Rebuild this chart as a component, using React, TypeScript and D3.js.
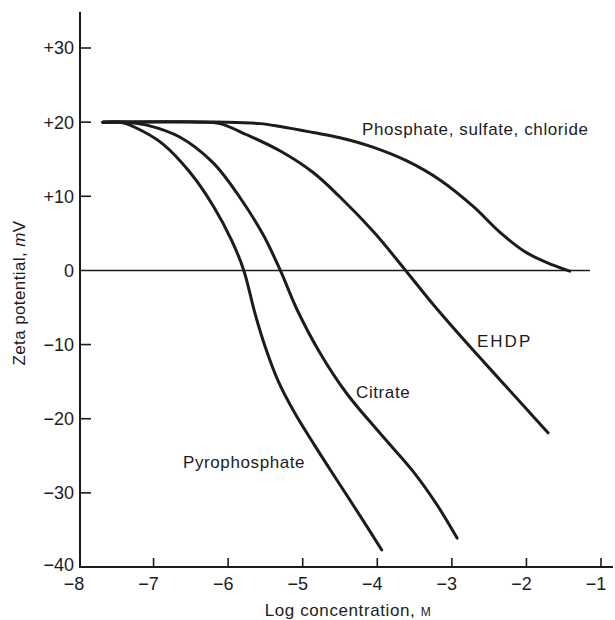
import React from "react";
import * as d3 from "d3";

// Zeta potential (mV) versus log molar concentration for several anions
const pyrophosphate: [number, number][] = [
  [-7.68, 20], [-7.41, 19.9], [-7.15, 18.8], [-6.87, 17.0], [-6.51, 13.2],
  [-6.2, 8.7], [-5.95, 4.0], [-5.79, 0], [-5.64, -5.8], [-5.5, -10.4],
  [-5.33, -14.9], [-5.12, -19.0], [-4.84, -23.6], [-4.54, -28.3],
  [-4.23, -33.1], [-3.94, -37.7],
];
const citrate: [number, number][] = [
  [-7.68, 20], [-7.35, 20], [-7.09, 19.6], [-6.65, 18.0], [-6.2, 14.5],
  [-5.84, 9.8], [-5.53, 4.8], [-5.3, 0], [-5.08, -5.2], [-4.77, -11.1],
  [-4.41, -16.6], [-3.96, -22.0], [-3.52, -27.1], [-3.2, -31.6],
  [-2.93, -36.1],
];
const ehdp: [number, number][] = [
  [-7.68, 20], [-6.4, 20], [-6.11, 19.8], [-5.75, 18.3], [-5.3, 16.1],
  [-4.86, 13.2], [-4.5, 9.9], [-4.05, 5.2], [-3.62, 0], [-3.25, -4.6],
  [-2.8, -9.8], [-2.35, -14.8], [-1.99, -18.8], [-1.71, -21.9],
];
const phosphate: [number, number][] = [
  [-7.68, 20], [-6.0, 20], [-5.57, 19.8], [-5.3, 19.4], [-4.86, 18.6],
  [-4.5, 17.9], [-4.05, 16.6], [-3.61, 14.8], [-3.16, 12.2], [-2.71, 8.6],
  [-2.35, 5.1], [-2.0, 2.4], [-1.64, 0.7], [-1.42, -0.1],
];

const seriesNames = ["Pyrophosphate", "Citrate", "EHDP", "Phosphate, sulfate, chloride"];
const seriesValues = [pyrophosphate, citrate, ehdp, phosphate];

const xTicks = [-8, -7, -6, -5, -4, -3, -2, -1];
const yTicks = [-40, -30, -20, -10, 0, 10, 20, 30];

// label anchors in data units (start of text, baseline)
const labelAnchors: [number, number][] = [
  [-6.605, -26.65],
  [-4.285, -17.2],
  [-2.663, -10.33],
  [-4.205, 18.27],
];

const W = 615;
const H = 620;
const FONT = "'Liberation Sans', Arial, Helvetica, sans-serif";
const INK = "#1c1c1c";

export default function App() {
  const x = d3.scaleLinear().domain([-8, -1]).range([79, 601]);
  const y = d3.scaleLinear().domain([-40, 30]).range([567, 48]);

  const line = d3
    .line<[number, number]>()
    .x((d) => x(d[0]))
    .y((d) => y(d[1]))
    .curve(d3.curveCatmullRom.alpha(0.5));

  const fmtY = (v: number) =>
    v > 0 ? `+${v}` : v < 0 ? `\u2212${Math.abs(v)}` : "0";
  const fmtX = (v: number) => (v < 0 ? `\u2212${Math.abs(v)}` : `${v}`);

  const axisX = 80;
  const axisTop = y(34.9);

  return (
    <svg
      width={W}
      height={H}
      style={{ position: "absolute", left: 0, top: 0, background: "#fff" }}
      fontFamily={FONT}
    >
      <rect width={W} height={H} fill="#fff" />

      {/* zero reference line */}
      <line
        x1={axisX}
        x2={590}
        y1={y(0)}
        y2={y(0)}
        stroke={INK}
        strokeWidth={1.6}
      />

      {/* y axis */}
      <line x1={axisX} x2={axisX} y1={axisTop} y2={y(-40)} stroke={INK} strokeWidth={2} />
      {yTicks
        .filter((t) => t !== 0 && t !== -40)
        .map((t) => (
          <line
            key={`yt${t}`}
            x1={axisX}
            x2={axisX + 11}
            y1={y(t)}
            y2={y(t)}
            stroke={INK}
            strokeWidth={1.6}
          />
        ))}
      {yTicks.map((t) => (
        <text
          key={`yl${t}`}
          x={74}
          y={y(t) + (t === -40 ? -2 : 0)}
          dy="0.36em"
          textAnchor="end"
          fontSize={18}
          fill={INK}
        >
          {fmtY(t)}
        </text>
      ))}

      {/* x axis */}
      <line x1={axisX - 1} x2={613} y1={y(-40)} y2={y(-40)} stroke={INK} strokeWidth={2} />
      {xTicks
        .filter((t) => t !== -8)
        .map((t) => (
          <line
            key={`xt${t}`}
            x1={x(t)}
            x2={x(t)}
            y1={y(-40)}
            y2={y(-40) - 9}
            stroke={INK}
            strokeWidth={1.6}
          />
        ))}
      {xTicks.map((t) => (
        <text
          key={`xl${t}`}
          x={x(t) - 5}
          y={590}
          textAnchor="middle"
          fontSize={18}
          fill={INK}
        >
          {fmtX(t)}
        </text>
      ))}

      {/* axis titles */}
      <text
        x={348}
        y={616}
        textAnchor="middle"
        fontSize={17}
        letterSpacing={0.6}
        fill={INK}
      >
        Log concentration,{" "}
        <tspan fontSize={12}>M</tspan>
      </text>
      <text
        transform={`translate(25,${293}) rotate(-90)`}
        textAnchor="middle"
        fontSize={17}
        letterSpacing={0.4}
        fill={INK}
      >
        Zeta potential, <tspan fontStyle="italic">m</tspan>V
      </text>

      {/* curves */}
      {seriesValues.map((s, i) => (
        <path
          key={seriesNames[i]}
          d={line(s) ?? ""}
          fill="none"
          stroke={INK}
          strokeWidth={3}
          strokeLinecap="round"
          strokeLinejoin="round"
        />
      ))}

      {/* curve labels */}
      {seriesNames.map((name, i) => (
        <text
          key={`lab${i}`}
          x={x(labelAnchors[i][0])}
          y={y(labelAnchors[i][1])}
          fontSize={17}
          letterSpacing={name === "EHDP" ? 2 : 0.6}
          fill={INK}
        >
          {name}
        </text>
      ))}
    </svg>
  );
}
